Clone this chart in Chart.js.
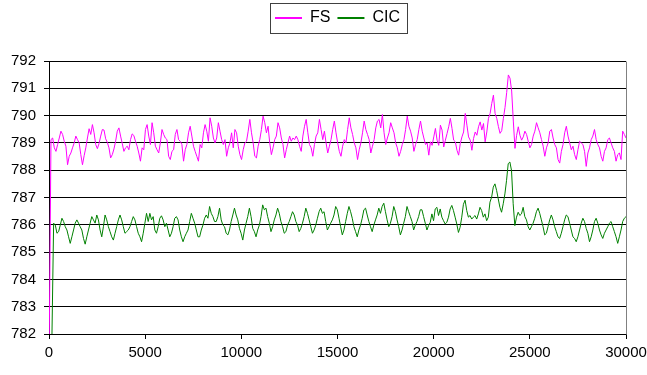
<!DOCTYPE html>
<html>
<head>
<meta charset="utf-8">
<script src="https://cdn.jsdelivr.net/npm/chart.js@4/dist/chart.umd.min.js"></script>
<style>
  html, body { margin: 0; padding: 0; background: #ffffff; }
  #wrap { width: 647px; height: 375px; }
</style>
</head>
<body>
<div id="wrap"><canvas id="chart" width="647" height="375"></canvas></div>
<script>
// ---------------- data ----------------
const seriesNames = ['FS', 'CIC'];
const xAxisMin = 0;
const xAxisMax = 30000;
const xTickStep = 5000;
const yAxisMin = 782;
const yAxisMax = 792;
const yTickStep = 1;

// x of first and last sample of each series (samples are evenly spaced)
const fsFirstX = 17;
const fsLastX = 30000;
const cicFirstX = 155;
const cicLastX = 30000;

// FS values (first sample is the start-up drop to the bottom of the axis)
const fsValues = [
  782,
  789.12, 789.18, 788.82, 788.69, 788.94, 789.18, 789.43, 789.31, 789.06, 788.88,
  788.20, 788.51, 788.63, 788.82, 789.00, 789.25, 789.12, 789.00, 788.57, 788.20,
  788.53, 788.82, 789.18, 789.52, 789.31, 789.67, 789.37, 788.94, 788.79, 788.98,
  789.25, 789.49, 789.47, 789.15, 789.02, 788.82, 788.45, 788.57, 788.78, 789.06,
  789.43, 789.55, 789.25, 788.98, 788.69, 788.82, 788.88, 788.75, 789.12, 789.33,
  789.27, 789.06, 788.88, 788.63,
  788.33, 788.82, 788.75, 789.49, 789.67, 789.25, 788.94, 789.74, 789.37, 788.88,
  788.75, 788.63, 789.00, 789.49, 789.31, 789.18, 789.12, 788.51, 788.39, 788.69,
  788.75, 789.31, 789.49, 789.12, 789.06, 788.94, 788.33, 788.75, 788.94, 789.37,
  789.61, 789.25, 788.88, 788.69, 788.51, 788.33, 788.94, 788.82, 789.37, 789.67,
  789.43, 789.06, 789.92, 789.61, 789.18, 789.00, 789.18, 789.74, 789.43, 789.12,
  788.94, 789.12, 788.51, 788.82, 789.00, 789.37, 788.82, 789.49,
  789.37, 788.88, 788.57, 788.39, 788.75, 789.00, 789.06, 789.43, 789.86, 789.37,
  789.00, 788.51, 788.45, 788.88, 789.12, 789.49, 789.98, 789.74, 789.37, 789.61,
  789.00, 788.57, 788.82, 789.12, 789.25, 789.74, 789.55, 789.18, 788.94, 788.45,
  788.75, 789.00, 789.25, 789.06, 789.18, 789.12, 789.25, 789.12, 788.88, 788.69,
  789.25, 789.61, 789.86, 789.37, 788.94, 788.82, 788.51, 788.94, 789.25, 789.37,
  789.86, 789.49, 789.12, 789.43, 789.00, 788.63, 788.88, 789.12,
  789.49, 789.80, 789.37, 789.00, 788.69, 788.51, 788.88, 789.12, 789.00, 789.49,
  789.92, 789.55, 789.31, 789.00, 788.82, 788.39, 788.75, 789.00, 789.37, 789.80,
  789.49, 789.31, 789.12, 788.63, 788.88, 789.12, 789.55, 789.80, 789.86, 789.55,
  790.04, 789.37, 788.94, 789.18, 789.37, 789.74, 789.55, 789.37, 789.00, 788.82,
  788.51, 788.69, 788.94, 789.12, 789.49, 789.98, 789.61, 789.43, 789.18, 788.69,
  788.94, 789.12, 789.49, 789.80, 789.43, 789.18, 788.94, 789.00,
  788.55, 789.04, 788.91, 789.22, 789.53, 789.10, 788.91, 789.65, 789.47, 788.85,
  789.10, 789.34, 789.59, 789.90, 789.53, 789.10, 789.04, 788.73, 788.55, 788.98,
  789.22, 789.40, 790.08, 789.65, 789.22, 789.10, 788.73, 789.16, 789.40, 789.28,
  789.59, 789.77, 789.47, 789.71, 789.04, 789.40, 789.90, 790.08, 790.45, 790.75,
  790.08, 789.90, 789.60, 789.35, 789.45, 789.90, 790.30, 790.85, 791.49, 791.37,
  790.90, 789.80, 788.80, 789.28, 789.59, 789.28, 789.10, 789.22,
  789.43, 789.31, 789.06, 788.82, 788.94, 789.25, 789.43, 789.74, 789.55, 789.37,
  789.12, 788.88, 788.51, 788.82, 789.00, 789.43, 789.49, 789.18, 788.94, 788.82,
  788.39, 788.26, 788.69, 788.94, 789.37, 789.61, 789.25, 789.00, 788.75, 788.88,
  788.57, 788.39, 788.75, 789.06, 789.00, 788.94, 788.69, 788.14, 788.63, 788.82,
  789.12, 789.25, 789.49, 789.12, 788.94, 788.82, 788.51, 788.33, 788.69, 788.82,
  789.12, 789.18, 789.00, 788.82, 788.69, 788.33, 788.57, 788.63, 788.39, 789.43,
  789.31, 789.18
];

// CIC values (first sample is the start-up drop to the bottom of the axis)
const cicValues = [
  782,
  786.06, 785.99, 785.69, 785.75, 785.99, 786.24, 786.12, 785.93, 785.81, 785.56,
  785.32, 785.56, 785.81, 786.06, 786.18, 786.06, 785.93, 785.81, 785.50, 785.29,
  785.56, 785.81, 786.06, 786.30, 786.18, 786.06, 786.36, 786.18, 785.81, 785.56,
  785.93, 786.36, 786.18, 785.93, 785.75, 785.56, 785.44, 785.69, 785.93, 786.18,
  786.36, 786.18, 785.93, 785.69, 785.75, 785.81, 785.93, 786.12, 786.30, 786.18,
  785.93, 785.69,
  785.56, 785.38, 785.69, 786.06, 786.42, 786.12, 786.42, 786.18, 786.30, 785.81,
  785.69, 785.93, 786.24, 786.33, 786.18, 785.93, 786.06, 785.81, 785.56, 785.69,
  785.93, 786.24, 786.30, 786.18, 785.81, 785.56, 785.38, 785.56, 785.69, 785.81,
  786.12, 786.42, 786.24, 786.06, 785.81, 785.56, 785.56, 785.81, 785.99, 786.24,
  786.36, 786.24, 786.67, 786.42, 786.30, 786.12, 786.12, 786.30, 786.61, 786.18,
  785.99, 785.93, 785.69, 785.63, 785.81, 786.12, 786.36, 786.61,
  786.36, 786.18, 785.87, 785.69, 785.44, 785.81, 786.06, 786.30, 786.61, 786.30,
  785.87, 785.75, 785.56, 785.81, 785.99, 786.30, 786.73, 786.55, 786.61, 786.30,
  786.06, 785.75, 785.93, 786.18, 786.36, 786.61, 786.42, 786.12, 785.93, 785.69,
  785.75, 785.99, 786.12, 786.30, 786.48, 786.36, 786.12, 785.99, 785.75, 785.87,
  786.06, 786.30, 786.61, 786.42, 786.18, 785.93, 785.69, 785.81, 785.99, 786.24,
  786.48, 786.61, 786.42, 786.48, 786.12, 785.81, 785.93, 786.06,
  786.18, 786.36, 786.67, 786.55, 786.24, 785.93, 785.63, 785.81, 786.12, 786.42,
  786.67, 786.48, 786.24, 785.93, 785.75, 785.56, 785.81, 785.99, 786.24, 786.55,
  786.61, 786.36, 786.12, 785.93, 785.75, 785.99, 786.18, 786.36, 786.61, 786.42,
  786.67, 786.79, 786.48, 786.18, 785.93, 786.06, 786.30, 786.67, 786.48, 786.18,
  785.93, 785.63, 785.81, 786.06, 786.30, 786.67, 786.48, 786.30, 786.12, 785.81,
  785.99, 786.12, 786.30, 786.55, 786.55, 786.30, 786.06, 785.81,
  785.97, 786.09, 786.40, 786.15, 786.58, 786.64, 786.34, 786.58, 786.28, 786.15,
  786.03, 786.09, 786.28, 786.58, 786.71, 786.52, 786.28, 786.03, 785.72, 785.91,
  786.28, 786.75, 786.90, 786.52, 786.28, 786.34, 786.21, 786.28, 786.34, 786.21,
  786.40, 786.64, 786.52, 786.28, 786.40, 786.15, 786.28, 786.83, 787.01, 787.38,
  787.50, 787.26, 786.95, 786.64, 786.46, 786.77, 787.13, 787.63, 788.24, 788.30,
  787.99, 786.77, 785.97, 786.28, 786.46, 786.34, 786.40, 786.64,
  786.30, 786.18, 785.93, 785.81, 785.93, 786.06, 786.24, 786.48, 786.61, 786.42,
  786.18, 785.93, 785.63, 785.69, 785.93, 786.18, 786.36, 786.18, 785.93, 785.75,
  785.56, 785.50, 785.69, 785.93, 786.18, 786.36, 786.30, 786.06, 785.81, 785.56,
  785.50, 785.38, 785.56, 785.81, 786.06, 786.24, 786.12, 785.87, 785.69, 785.38,
  785.56, 785.81, 786.12, 786.24, 786.06, 785.81, 785.63, 785.50, 785.69, 785.81,
  785.93, 786.06, 786.12, 785.93, 785.75, 785.56, 785.32, 785.56, 785.81, 786.12,
  786.24, 786.30
];

// ---------------- build chart ----------------
function toPoints(values, firstX, lastX) {
  const step = (lastX - firstX) / (values.length - 1);
  return values.map((v, i) => ({ x: firstX + i * step, y: v }));
}

const FONT = "'Liberation Sans', Arial, sans-serif";

const legendFrame = {
  id: 'legendFrame',
  afterDraw(chart) {
    const lg = chart.legend;
    if (!lg || !lg.legendHitBoxes || !lg.legendHitBoxes.length) return;
    let l = Infinity, r = -Infinity, t = Infinity, b = -Infinity;
    lg.legendHitBoxes.forEach(h => {
      l = Math.min(l, h.left); r = Math.max(r, h.left + h.width);
      t = Math.min(t, h.top); b = Math.max(b, h.top + h.height);
    });
    const ctx = chart.ctx;
    ctx.save();
    ctx.strokeStyle = '#404040';
    ctx.lineWidth = 1;
    const x0 = Math.round(l - 5) + 0.5, y0 = Math.round(t - 7) + 0.5;
    const x1 = Math.round(r + 7) + 0.5, y1 = Math.round(b + 7) + 0.5;
    ctx.strokeRect(x0, y0, x1 - x0, y1 - y0);
    ctx.restore();
  }
};

const plotFrame = {
  id: 'plotFrame',
  beforeDatasetsDraw(chart) {
    const a = chart.chartArea;
    const ctx = chart.ctx;
    ctx.save();
    ctx.strokeStyle = '#808080';
    ctx.lineWidth = 1;
    const xr = Math.round(a.right) + 0.5;
    ctx.beginPath();
    ctx.moveTo(xr, Math.round(a.top) + 0.5);
    ctx.lineTo(xr, Math.round(a.bottom) + 0.5);
    ctx.stroke();
    ctx.restore();
  }
};

new Chart(document.getElementById('chart'), {
  type: 'line',
  data: {
    datasets: [
      {
        label: seriesNames[0],
        data: toPoints(fsValues, fsFirstX, fsLastX),
        borderColor: '#ff00ff',
        backgroundColor: '#ff00ff',
        borderWidth: 1,
        pointRadius: 0,
        tension: 0,
        fill: false
      },
      {
        label: seriesNames[1],
        data: toPoints(cicValues, cicFirstX, cicLastX),
        borderColor: '#008000',
        backgroundColor: '#008000',
        borderWidth: 1,
        pointRadius: 0,
        tension: 0,
        fill: false
      }
    ]
  },
  options: {
    responsive: false,
    animation: false,
    events: [],
    layout: { padding: { top: 3, right: 21, left: 0, bottom: 0 } },
    plugins: {
      legend: {
        display: true,
        position: 'top',
        weight: 3000,
        fullSize: false,
        align: 'center',
        labels: {
          color: '#000000',
          font: { family: FONT, size: 16 },
          usePointStyle: true,
          pointStyle: 'line',
          pointStyleWidth: 27,
          padding: 7,
          generateLabels(chart) {
            const items = Chart.defaults.plugins.legend.labels.generateLabels(chart);
            items.forEach(it => { it.lineWidth = 2; });
            return items;
          }
        }
      },
      title: {
        display: true,
        text: '',
        weight: 2000,
        padding: 0,
        font: { size: 25, lineHeight: 1 }
      },
      tooltip: { enabled: false }
    },
    scales: {
      x: {
        type: 'linear',
        min: xAxisMin,
        max: xAxisMax,
        afterFit(s) { s.height = 41; s.paddingLeft = 0; s.paddingRight = 0; },
        ticks: {
          stepSize: xTickStep,
          color: '#000000',
          font: { family: FONT, size: 15 },
          padding: 5,
          maxRotation: 0,
          autoSkip: false,
          callback: v => String(v)
        },
        grid: {
          display: true,
          drawOnChartArea: false,
          drawTicks: true,
          tickLength: 5,
          color: '#000000'
        },
        border: { display: true, color: '#000000', width: 1 }
      },
      y: {
        type: 'linear',
        min: yAxisMin,
        max: yAxisMax,
        afterFit(s) { s.width = 49; },
        ticks: {
          stepSize: yTickStep,
          color: '#000000',
          font: { family: FONT, size: 15 },
          padding: 8,
          callback: v => String(v)
        },
        grid: {
          color: '#000000',
          lineWidth: 1,
          drawTicks: true,
          tickLength: 5
        },
        border: { display: true, color: '#000000', width: 1 }
      }
    }
  },
  plugins: [plotFrame, legendFrame]
});
</script>
</body>
</html>
